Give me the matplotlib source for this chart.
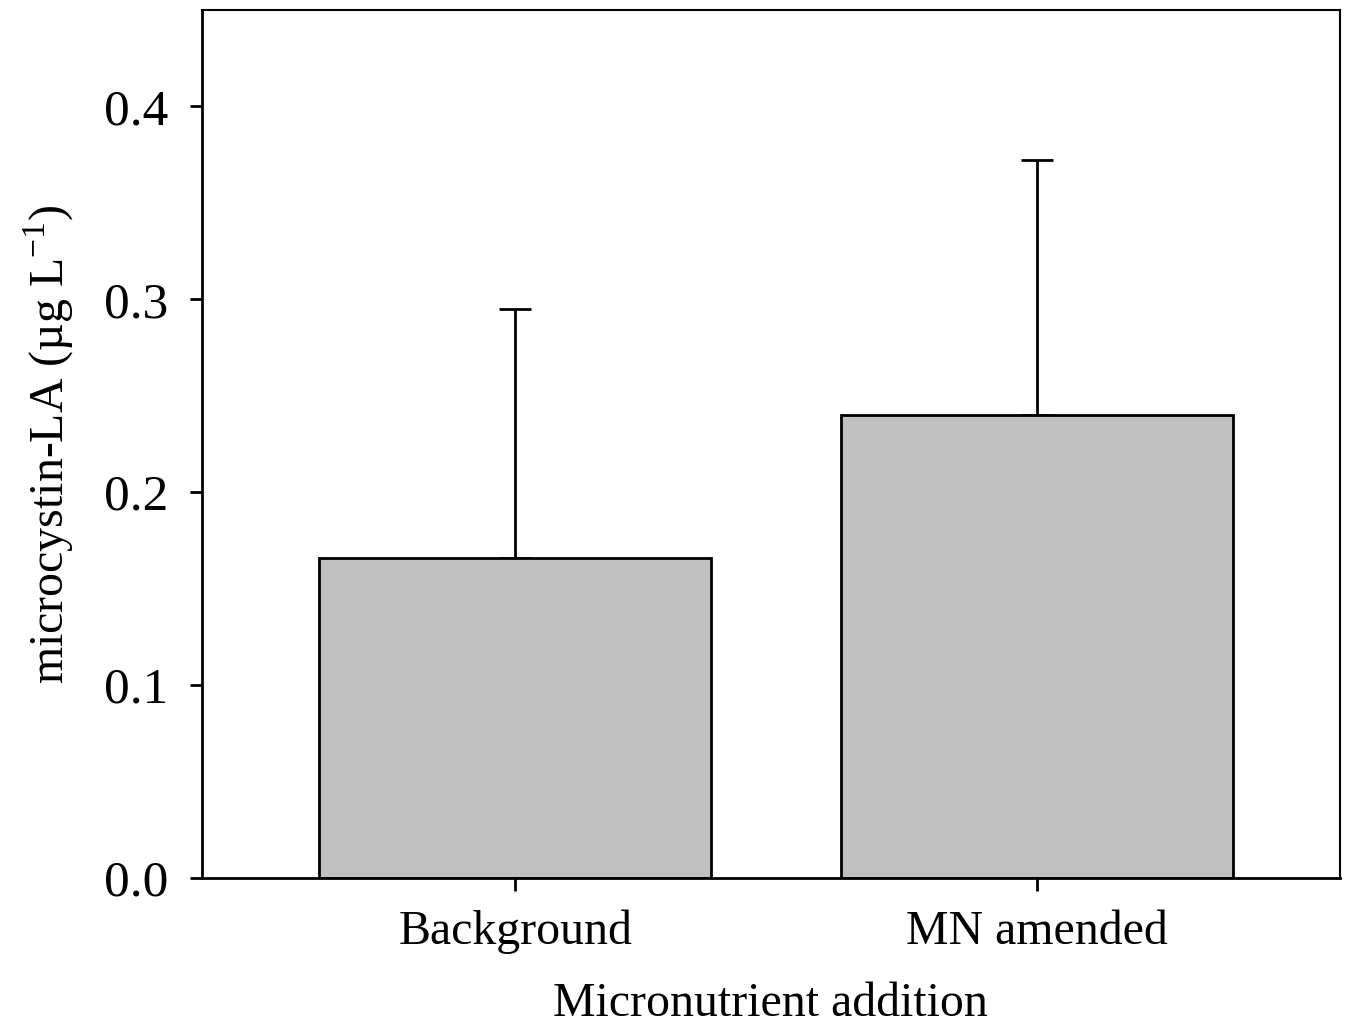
import matplotlib
matplotlib.use("Agg")
import matplotlib.pyplot as plt
import numpy as np

# --- DATA ---
groups = ["Background", "MN amended"]
means = [0.166, 0.240]
errs = [0.129, 0.132]

plt.rcParams['font.family'] = ['Liberation Serif', 'DejaVu Serif']
plt.rcParams['mathtext.fontset'] = 'custom'
plt.rcParams['mathtext.rm'] = 'Liberation Serif'

fig = plt.figure(figsize=(13.58, 10.26), dpi=100)
ax = fig.add_axes([0.1487, 0.1442, 0.838, 0.8461])

x = np.arange(len(groups))
ax.bar(x, means, width=0.75, color='#c0c0c0', edgecolor='black', linewidth=2, zorder=2)
ax.errorbar(x, means, yerr=[np.zeros(len(errs)), errs], fmt='none', ecolor='black',
            elinewidth=2, capsize=11.5, capthick=2, zorder=1)

ax.set_xlim(-0.6, 1.58)
ax.set_ylim(0, 0.45)
ax.set_yticks([0.0, 0.1, 0.2, 0.3, 0.4])
ax.set_yticklabels(['0.0', '0.1', '0.2', '0.3', '0.4'])
ax.set_xticks(x)
ax.set_xticklabels(groups)

ax.tick_params(axis='both', direction='out', length=9, width=2)
ax.tick_params(axis='y', labelsize=37, pad=15)
ax.tick_params(axis='x', labelsize=34.5, pad=14)
ax.tick_params(top=False, right=False)
for side in ['left', 'bottom']:
    ax.spines[side].set_linewidth(2)
for side in ['top', 'right']:
    ax.spines[side].set_linewidth(1.5)

ax.set_xlabel('Micronutrient addition', fontsize=34.5, labelpad=20)
ax.set_ylabel('microcystin-LA (µg L$^{\\mathregular{-1}}$)', fontsize=34.5, labelpad=20)

fig.savefig('out.png', dpi=100)
